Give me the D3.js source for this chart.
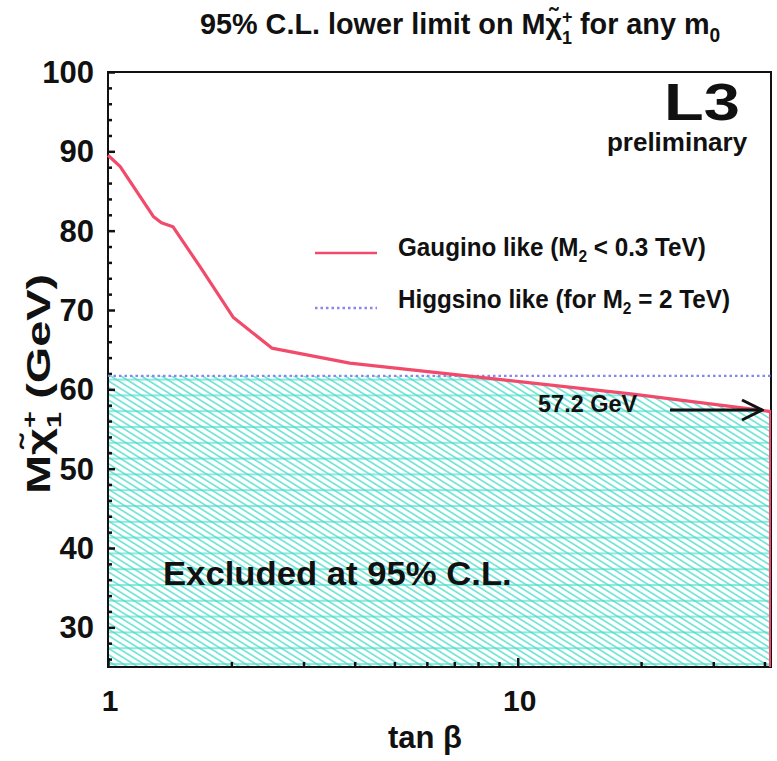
<!DOCTYPE html>
<html>
<head>
<meta charset="utf-8">
<script src="https://cdn.jsdelivr.net/npm/d3@7/dist/d3.min.js"></script>
<style>
  html, body { margin: 0; padding: 0; background: #fff; }
  svg text { font-family: "Liberation Sans", Arial, Helvetica, sans-serif; font-weight: bold; fill: #111; }
</style>
</head>
<body>
<svg id="chart" width="777" height="761"></svg>
<script>
// tan(beta) sample points and the gaugino-like chargino mass limit (GeV)
const tanBeta = [1, 1.07, 1.29, 1.35, 1.44, 1.68, 2.02, 2.51, 3.89, 9.0, 19.1, 41.5];
const gauginoLimit = [89.5, 88.1, 81.8, 81.0, 80.5, 75.4, 69.1, 65.2, 63.3, 61.25, 59.4, 57.2];
// higgsino-like limit (M2 = 2 TeV), flat in tan(beta)
const higgsinoTan = [1, 41.5];
const higgsinoLimit = [61.7, 61.7];
// axis ticks
const yMajorTicks = [30, 40, 50, 60, 70, 80, 90, 100];
const yMinorTicks = [26, 28, 32, 34, 36, 38, 42, 44, 46, 48, 52, 54, 56, 58, 62, 64, 66, 68, 72, 74, 76, 78, 82, 84, 86, 88, 92, 94, 96, 98];
const xMajorTicks = [1, 10];
const xMinorTicks = [2, 3, 4, 5, 6, 7, 8, 9, 20, 30, 40];
const endLabel = "57.2 GeV";

const svg = d3.select("#chart");
const plotL = 108, plotR = 771, plotT = 72, plotB = 667;

const x = d3.scaleLog().domain([1, 41.5]).range([plotL, plotR]);
const y = d3.scaleLinear().domain([25, 100]).range([plotB, plotT]);

const gaugino = tanBeta.map((t, i) => [t, gauginoLimit[i]]);
const higgsino = higgsinoTan.map((t, i) => [t, higgsinoLimit[i]]);

// text placed at (tx, ty), optionally rotated, and stretched by sx along its baseline
function label(tx, ty, size, sx = 1, rot = 0, anchor = "start") {
  const g = svg.append("g").attr("transform", `translate(${tx},${ty}) rotate(${rot}) scale(${sx},1)`);
  return g.append("text").attr("x", 0).attr("y", 0).attr("font-size", size).attr("text-anchor", anchor);
}

// hatch patterns: horizontal rules plus slanted rules
const defs = svg.append("defs");
const hatchColor = "#45dcca";
const ph = defs.append("pattern").attr("id", "hatchH")
  .attr("patternUnits", "userSpaceOnUse").attr("width", 20).attr("height", 15.8)
  .attr("y", plotB - 4);
ph.append("line").attr("x1", 0).attr("x2", 20).attr("y1", 1).attr("y2", 1)
  .attr("stroke", hatchColor).attr("stroke-width", 1.2);
const pd = defs.append("pattern").attr("id", "hatchD")
  .attr("patternUnits", "userSpaceOnUse").attr("width", 20).attr("height", 5.4)
  .attr("patternTransform", "rotate(32)");
pd.append("line").attr("x1", 0).attr("x2", 20).attr("y1", 1).attr("y2", 1)
  .attr("stroke", hatchColor).attr("stroke-width", 1.3);

// excluded region: below the lower of the two limits
const hLevel = higgsinoLimit[0];
const region = [];
region.push([1, Math.min(hLevel, gauginoLimit[0])]);
for (let i = 0; i < gaugino.length; i++) {
  const [t, m] = gaugino[i];
  if (i > 0) {
    const [t0, m0] = gaugino[i - 1];
    if ((m0 - hLevel) * (m - hLevel) < 0) {
      const f = (hLevel - m0) / (m - m0);
      const lt = Math.log10(t0) + f * (Math.log10(t) - Math.log10(t0));
      region.push([Math.pow(10, lt), hLevel]);
    }
  }
  region.push([t, Math.min(m, hLevel)]);
}
region.push([tanBeta[tanBeta.length - 1], 25]);
region.push([1, 25]);

const area = d3.line().x(d => x(d[0])).y(d => y(d[1]));
svg.append("path").attr("d", area(region) + "Z").attr("fill", "url(#hatchH)");
svg.append("path").attr("d", area(region) + "Z").attr("fill", "url(#hatchD)");

// frame
svg.append("rect").attr("x", plotL).attr("y", plotT).attr("width", plotR - plotL).attr("height", plotB - plotT)
  .attr("fill", "none").attr("stroke", "#111").attr("stroke-width", 2);

// y ticks (inside, left side)
const yAxis = d3.axisRight(y).tickValues(yMajorTicks).tickSize(7).tickFormat("");
svg.append("g").attr("transform", `translate(${plotL},0)`).call(yAxis)
  .call(g => g.select(".domain").remove())
  .selectAll("line").attr("stroke", "#111").attr("stroke-width", 2.5);
const yAxisMinor = d3.axisRight(y).tickValues(yMinorTicks).tickSize(4).tickFormat("");
svg.append("g").attr("transform", `translate(${plotL},0)`).call(yAxisMinor)
  .call(g => g.select(".domain").remove())
  .selectAll("line").attr("stroke", "#111").attr("stroke-width", 2.5);

// x ticks (inside, bottom)
const xAxis = d3.axisTop(x).tickValues(xMajorTicks).tickSize(9).tickFormat("");
svg.append("g").attr("transform", `translate(0,${plotB})`).call(xAxis)
  .call(g => g.select(".domain").remove())
  .selectAll("line").attr("stroke", "#111").attr("stroke-width", 2.5);
const xAxisMinor = d3.axisTop(x).tickValues(xMinorTicks).tickSize(5).tickFormat("");
svg.append("g").attr("transform", `translate(0,${plotB})`).call(xAxisMinor)
  .call(g => g.select(".domain").remove())
  .selectAll("line").attr("stroke", "#111").attr("stroke-width", 2.5);

// tick labels
svg.append("g").selectAll("text").data(yMajorTicks).join("text")
  .attr("x", 94).attr("y", d => y(d)).attr("dy", "0.36em")
  .attr("text-anchor", "end").attr("font-size", 31).text(d => d);
svg.append("g").selectAll("text").data(xMajorTicks).join("text")
  .attr("x", d => x(d) + 2).attr("y", 711)
  .attr("text-anchor", "middle").attr("font-size", 30).text(d => d);

// curves
const line = d3.line().x(d => x(d[0])).y(d => y(d[1]));
svg.append("path").datum(higgsino).attr("d", line).attr("fill", "none")
  .attr("stroke", "#8a86e8").attr("stroke-width", 2.4).attr("stroke-dasharray", "2.5,3");
svg.append("path").datum(gaugino).attr("d", line).attr("fill", "none")
  .attr("stroke", "#f24a6a").attr("stroke-width", 3.2).attr("stroke-linejoin", "round");
// closing edge of the excluded region at the highest tan(beta)
const last = gaugino[gaugino.length - 1];
svg.append("line").attr("x1", x(last[0]) - 1).attr("x2", x(last[0]) - 1)
  .attr("y1", y(last[1])).attr("y2", plotB).attr("stroke", "#f24a6a").attr("stroke-width", 2);

// helper: M with a tilded chi carrying a stacked "+" / "1"
function chargino(sel, size) {
  sel.append("tspan").text("M");
  sel.append("tspan").text("χ\u0303");
  const sup = sel.append("tspan").attr("font-size", size * 0.62).attr("dy", -size * 0.38).text("+");
  const w = sup.node().getComputedTextLength();
  sel.append("tspan").attr("font-size", size * 0.62).attr("dx", -w).attr("dy", size * 0.7).text("1");
  return sel;
}

// title
const title = label(200, 34, 30, 0.96);
title.append("tspan").text("95% C.L. lower limit on ");
chargino(title, 30);
title.append("tspan").attr("dy", -30 * 0.32).text(" for any m");
title.append("tspan").attr("font-size", 20).attr("dy", 8).text("0");

// y axis label
const yl = label(50, 494, 33, 1.42, -90);
chargino(yl, 33);
yl.append("tspan").attr("dy", -33 * 0.32).text(" (GeV)");

// x axis label
label(425, 748, 31, 1, 0, "middle").text("tan β");

// experiment tag
label(702, 120, 52, 1.25, 0, "middle").text("L3");
label(677, 151, 26, 1, 0, "middle").text("preliminary");

// legend
const legend = svg.append("g");
legend.append("line").attr("x1", 315).attr("x2", 377).attr("y1", 253).attr("y2", 253)
  .attr("stroke", "#f24a6a").attr("stroke-width", 2.4);
legend.append("line").attr("x1", 315).attr("x2", 377).attr("y1", 308).attr("y2", 308)
  .attr("stroke", "#8a86e8").attr("stroke-width", 2.4).attr("stroke-dasharray", "2.5,3");
const l1 = label(398, 256, 25, 0.97);
l1.append("tspan").text("Gaugino like (M");
l1.append("tspan").attr("font-size", 16).attr("dy", 6).text("2");
l1.append("tspan").attr("dy", -6).text(" < 0.3 TeV)");
const l2 = label(398, 308, 25, 0.97);
l2.append("tspan").text("Higgsino like (for M");
l2.append("tspan").attr("font-size", 16).attr("dy", 6).text("2");
l2.append("tspan").attr("dy", -6).text(" = 2 TeV)");

// end-point annotation with arrow
label(538, 412, 23.5).text(endLabel);
defs.append("marker").attr("id", "arrowHead").attr("viewBox", "0 0 24 24")
  .attr("refX", 22).attr("refY", 12).attr("markerWidth", 24).attr("markerHeight", 24)
  .attr("markerUnits", "userSpaceOnUse").attr("orient", "auto")
  .append("path").attr("d", "M2,2 L22,12 L2,22").attr("fill", "none")
  .attr("stroke", "#111").attr("stroke-width", 3);
svg.append("line").attr("x1", 670).attr("x2", 762)
  .attr("y1", 410).attr("y2", 410).attr("stroke", "#111").attr("stroke-width", 3)
  .attr("marker-end", "url(#arrowHead)");

// excluded-region label
label(163, 585, 34, 1.02).text("Excluded at 95% C.L.");
</script>
</body>
</html>
